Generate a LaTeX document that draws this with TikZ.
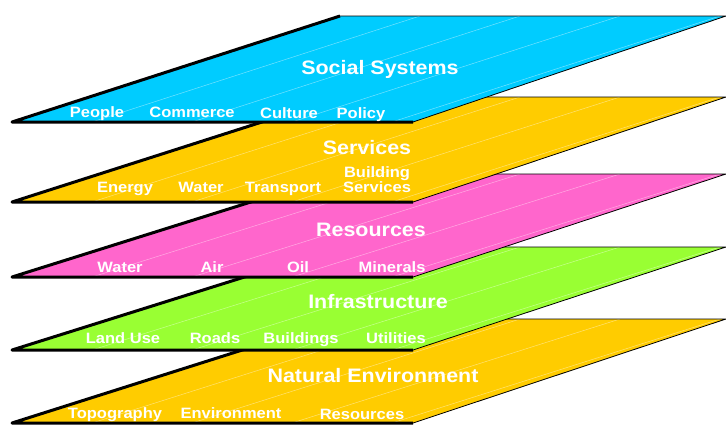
\documentclass[tikz,border=0pt]{standalone}
\usepackage{fontspec}
\setmainfont[FakeStretch=1.1]{Liberation Sans}
\usepackage{xcolor}
\usepackage{tikz}
\definecolor{skyA}{HTML}{00CCFF}
\definecolor{sunA}{HTML}{FFCC00}
\definecolor{pinkA}{HTML}{FF66CC}
\definecolor{limeA}{HTML}{99FF33}
\tikzset{
  layertitle/.style={
    text=white, font=\fontsize{19.5}{21}\selectfont\bfseries,
    inner sep=1pt, anchor=base
  },
  layeritem/.style={
    text=white, font=\fontsize{15}{13}\selectfont\bfseries,
    inner sep=1pt, anchor=base, align=center
  },
  thickedge/.style={black, line width=3pt, line join=round},
  rim/.style={black, line width=0.8pt},
  grain/.style={white, opacity=0.45, line width=0.5pt}
}
% one slanted plane: fill colour, top y, bottom y
\newcommand{\drawplane}[3]{%
  \fill[#1] (12,#3) -- (340,#2) -- (726,#2) -- (413,#3) -- cycle;
  \begin{scope}
    \clip (12,#3) -- (340,#2) -- (726,#2) -- (413,#3) -- cycle;
    \foreach \s in {80,180,...,480}
      \draw[grain] (12+\s,#3) -- (340+\s,#2);
  \end{scope}
  \draw[rim] (340,#2) -- (726,#2) -- (413,#3);
  \draw[thickedge] (340,#2) -- (12,#3) -- (413,#3);
}

\begin{document}
\begin{tikzpicture}[x=1pt, y=-1pt]
  \useasboundingbox (0,0) rectangle (726,424);
  \clip (0,0) rectangle (726,424);

  % planes, lowest first
  \drawplane{sunA}{319}{423}
  \drawplane{limeA}{247}{350}
  \drawplane{pinkA}{174}{277}
  \drawplane{sunA}{97}{202}
  \drawplane{skyA}{16}{122}

  % natural environment
  \node[layertitle] (nat) at (373,382) {Natural Environment};
  \node[layeritem] (topo) at (115,418) {Topography};
  \node[layeritem] (env) at (231,418) {Environment};
  \node[layeritem] (res) at (362,419) {Resources};

  % infrastructure
  \node[layertitle] (infra) at (378,308) {Infrastructure};
  \node[layeritem] (land) at (123,343) {Land Use};
  \node[layeritem] (roads) at (215,343) {Roads};
  \node[layeritem] (build) at (301,343) {Buildings};
  \node[layeritem] (util) at (396,343) {Utilities};

  % resources
  \node[layertitle] (resrc) at (371,236) {Resources};
  \node[layeritem] (rwater) at (120,272) {Water};
  \node[layeritem] (air) at (212,272) {Air};
  \node[layeritem] (oil) at (298,272) {Oil};
  \node[layeritem] (mineral) at (392,272) {Minerals};

  % services
  \node[layertitle] (serv) at (367,154) {Services};
  \node[layeritem] (energy) at (125,192) {Energy};
  \node[layeritem] (swater) at (201,192) {Water};
  \node[layeritem] (transp) at (283,192) {Transport};
  \node[layeritem, anchor=center] (bserv) at (377,180) {Building\\Services};

  % social systems
  \node[layertitle] (social) at (380,74) {Social Systems};
  \node[layeritem] (people) at (97,117) {People};
  \node[layeritem] (commerce) at (192,117) {Commerce};
  \node[layeritem] (culture) at (289,118) {Culture};
  \node[layeritem] (policy) at (361,118) {Policy};
\end{tikzpicture}
\end{document}
